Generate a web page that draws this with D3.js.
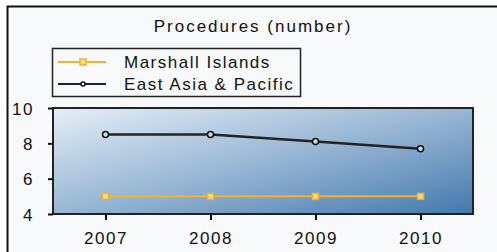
<!DOCTYPE html>
<html>
<head>
<meta charset="utf-8">
<script src="https://cdn.jsdelivr.net/npm/d3@7.9.0/dist/d3.min.js"></script>
<style>
  html, body { margin: 0; padding: 0; background: #fff; }
  text { font-family: "Liberation Sans", Arial, sans-serif; font-size: 17px; letter-spacing: 1.5px; fill: #111; }
</style>
</head>
<body>
<div id="chart"></div>
<script>
const years = ['2007', '2008', '2009', '2010'];
const marshall = [5, 5, 5, 5];
const eastAsia = [8.5, 8.5, 8.1, 7.7];
const yTicks = [4, 6, 8, 10];
const seriesNames = ['Marshall Islands', 'East Asia & Pacific'];
const title = 'Procedures (number)';

const width = 497;
const height = 252;
const plot = { left: 53, right: 473, top: 108, bottom: 214 };

const svg = d3.select('#chart')
    .append('svg')
    .attr('width', width)
    .attr('height', height);

// panel background + frame
svg.append('rect')
    .attr('x', 7.5).attr('y', 6.5)
    .attr('width', width).attr('height', height)
    .attr('fill', '#f8f9fb')
    .attr('stroke', '#111')
    .attr('stroke-width', 2);

const defs = svg.append('defs');
const grad = defs.append('linearGradient')
    .attr('id', 'bg')
    .attr('x1', 0).attr('y1', 0).attr('x2', 1).attr('y2', 1);
grad.append('stop').attr('offset', '0%').attr('stop-color', '#e6eef6');
grad.append('stop').attr('offset', '50%').attr('stop-color', '#98b6d4');
grad.append('stop').attr('offset', '100%').attr('stop-color', '#4479ad');

const xScale = d3.scalePoint()
    .domain(years)
    .range([plot.left, plot.right])
    .padding(0.5);
const yScale = d3.scaleLinear()
    .domain([4, 10])
    .range([plot.bottom, plot.top]);

svg.append('rect')
    .attr('x', plot.left).attr('y', plot.top)
    .attr('width', plot.right - plot.left)
    .attr('height', plot.bottom - plot.top)
    .attr('fill', 'url(#bg)')
    .attr('stroke', '#222')
    .attr('stroke-width', 2);

// axes
const xAxis = svg.append('g')
    .attr('transform', `translate(0,${plot.bottom})`)
    .call(d3.axisBottom(xScale).tickSize(6).tickPadding(12));
const yAxis = svg.append('g')
    .attr('transform', `translate(${plot.left},0)`)
    .call(d3.axisLeft(yScale).tickValues(yTicks).tickFormat(d3.format('d')).tickSize(5).tickPadding(14));
[xAxis, yAxis].forEach(g => {
    g.select('.domain').remove();
    g.selectAll('.tick line').attr('stroke', '#111').attr('stroke-width', 2);
    g.selectAll('.tick text')
        .attr('fill', '#111')
        .style('font-family', '"Liberation Sans", Arial, sans-serif')
        .style('font-size', '17px');
});
yAxis.selectAll('.tick text').attr('dy', '0.36em');

// lines
const line = d3.line()
    .x((d, i) => xScale(years[i]))
    .y(d => yScale(d));

svg.append('path')
    .datum(marshall)
    .attr('fill', 'none')
    .attr('stroke', '#f2b12f')
    .attr('stroke-width', 2)
    .attr('d', line);
svg.selectAll('.m-pt')
    .data(marshall)
    .join('rect')
    .attr('class', 'm-pt')
    .attr('x', (d, i) => xScale(years[i]) - 3)
    .attr('y', d => yScale(d) - 3)
    .attr('width', 6).attr('height', 6)
    .attr('fill', '#f8d98a')
    .attr('stroke', '#f2b12f')
    .attr('stroke-width', 1.5);

svg.append('path')
    .datum(eastAsia)
    .attr('fill', 'none')
    .attr('stroke', '#222')
    .attr('stroke-width', 2.5)
    .attr('d', line);
svg.selectAll('.e-pt')
    .data(eastAsia)
    .join('circle')
    .attr('class', 'e-pt')
    .attr('cx', (d, i) => xScale(years[i]))
    .attr('cy', d => yScale(d))
    .attr('r', 3)
    .attr('fill', '#cfd9e4')
    .attr('stroke', '#111')
    .attr('stroke-width', 1.5);

// title
svg.append('text')
    .attr('x', 253)
    .attr('y', 32)
    .attr('text-anchor', 'middle')
    .style('letter-spacing', '2px')
    .text(title);

// legend
const legend = svg.append('g');
legend.append('rect')
    .attr('x', 52.5).attr('y', 48.5)
    .attr('width', 248).attr('height', 48)
    .attr('fill', 'none')
    .attr('stroke', '#222')
    .attr('stroke-width', 1.5);
const legendColors = ['#f2b12f', '#222'];
const legendY = [62, 84];
seriesNames.forEach((name, i) => {
    legend.append('line')
        .attr('x1', 58).attr('x2', 106)
        .attr('y1', legendY[i]).attr('y2', legendY[i])
        .attr('stroke', legendColors[i])
        .attr('stroke-width', 2);
    if (i === 0) {
        legend.append('rect')
            .attr('x', 80).attr('y', legendY[i] - 3)
            .attr('width', 6).attr('height', 6)
            .attr('fill', '#f8d98a')
            .attr('stroke', legendColors[i])
            .attr('stroke-width', 1.5);
    } else {
        legend.append('circle')
            .attr('cx', 83).attr('cy', legendY[i])
            .attr('r', 2)
            .attr('fill', '#fff')
            .attr('stroke', '#111')
            .attr('stroke-width', 1.5);
    }
    legend.append('text')
        .attr('x', 124)
        .attr('y', legendY[i])
        .attr('dy', '0.35em')
        .text(name);
});
</script>
</body>
</html>
